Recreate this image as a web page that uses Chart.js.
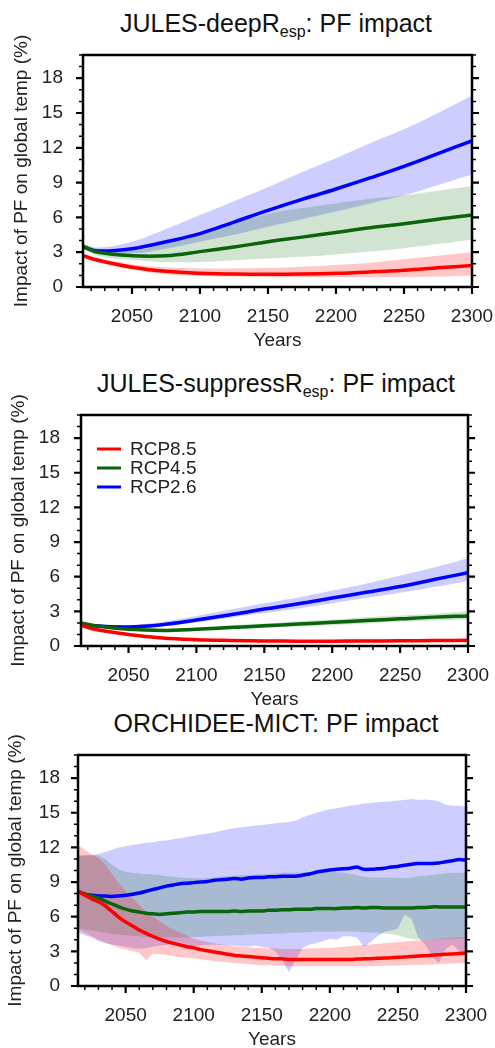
<!DOCTYPE html>
<html>
<head>
<meta charset="utf-8">
<script src="https://cdn.jsdelivr.net/npm/chart.js@4.4.1/dist/chart.umd.min.js"></script>
<style>
  html, body { margin: 0; padding: 0; background: #fff; overflow: hidden; }
  body { width: 495px; height: 1048px; position: relative; font-family: "Liberation Sans", Arial, sans-serif; color: #111; }
  .panel { position: absolute; left: 0; width: 495px; }
  .title { position: absolute; left: 0; width: 552px; text-align: center; font-size: 25px; line-height: 30px; white-space: nowrap; }
  .title sub { font-size: 16px; vertical-align: -5px; line-height: 0; }
</style>
</head>
<body>
<div class="title" style="top:8px">JULES-deepR<sub>esp</sub>: PF impact</div>
<div class="title" style="top:368px">JULES-suppressR<sub>esp</sub>: PF impact</div>
<div class="title" style="top:708px">ORCHIDEE-MICT: PF impact</div>
<div class="panel" style="top:0px;height:352px"><canvas id="deep"></canvas></div>
<div class="panel" style="top:352px;height:359px"><canvas id="suppress"></canvas></div>
<div class="panel" style="top:705px;height:346px"><canvas id="orchidee"></canvas></div>
<script>
// tick labels
const xMajor = [2050, 2100, 2150, 2200, 2250, 2300];
const yMajor = [0, 3, 6, 9, 12, 15, 18];
const seriesNames = ['RCP8.5', 'RCP4.5', 'RCP2.6'];

// JULES-deepResp
const deepYears = [2014, 2025, 2050, 2075, 2100, 2125, 2150, 2175, 2200, 2225, 2250, 2275, 2300];
const deepRed     = [2.7, 2.3, 1.7, 1.35, 1.18, 1.12, 1.1, 1.12, 1.18, 1.3, 1.45, 1.65, 1.85];
const deepRedHi   = [2.85, 2.5, 1.95, 1.7, 1.6, 1.6, 1.65, 1.75, 1.9, 2.1, 2.4, 2.7, 3.0];
const deepRedLo   = [2.6, 2.15, 1.5, 1.1, 0.95, 0.9, 0.85, 0.85, 0.85, 0.85, 0.85, 0.9, 1.0];
const deepGreen   = [3.5, 3.0, 2.7, 2.7, 3.05, 3.45, 3.9, 4.3, 4.7, 5.1, 5.45, 5.85, 6.2];
const deepGreenHi = [3.7, 3.3, 3.1, 3.8, 4.7, 5.5, 6.3, 6.8, 7.2, 7.6, 7.9, 8.3, 8.7];
const deepGreenLo = [3.3, 2.7, 2.35, 2.15, 2.15, 2.3, 2.45, 2.6, 2.8, 3.05, 3.35, 3.7, 4.1];
const deepBlue    = [3.45, 3.1, 3.3, 3.9, 4.6, 5.6, 6.6, 7.55, 8.45, 9.4, 10.4, 11.5, 12.6];
const deepBlueHi  = [3.7, 3.4, 3.9, 5.0, 6.2, 7.4, 8.6, 9.9, 11.1, 12.4, 13.6, 15.0, 16.5];
const deepBlueLo  = [3.3, 2.95, 2.9, 3.3, 3.9, 4.5, 5.2, 5.85, 6.5, 7.2, 7.9, 8.8, 9.7];

// JULES-suppressResp
const supYears = [2015, 2025, 2050, 2075, 2100, 2125, 2150, 2175, 2200, 2225, 2250, 2275, 2300];
const supRed     = [1.8, 1.45, 1.0, 0.7, 0.55, 0.48, 0.44, 0.42, 0.42, 0.43, 0.45, 0.47, 0.5];
const supRedHi   = [1.85, 1.52, 1.08, 0.8, 0.65, 0.58, 0.55, 0.53, 0.53, 0.54, 0.56, 0.58, 0.6];
const supRedLo   = [1.75, 1.38, 0.92, 0.6, 0.45, 0.38, 0.34, 0.32, 0.32, 0.33, 0.35, 0.37, 0.4];
const supGreen   = [2.0, 1.75, 1.45, 1.35, 1.45, 1.6, 1.75, 1.9, 2.05, 2.2, 2.35, 2.5, 2.6];
const supGreenHi = [2.05, 1.85, 1.6, 1.5, 1.6, 1.8, 1.95, 2.15, 2.3, 2.5, 2.65, 2.8, 3.0];
const supGreenLo = [1.95, 1.7, 1.35, 1.25, 1.3, 1.45, 1.55, 1.7, 1.8, 1.95, 2.1, 2.2, 2.3];
const supBlue    = [1.95, 1.75, 1.65, 1.85, 2.25, 2.7, 3.2, 3.65, 4.15, 4.65, 5.15, 5.75, 6.35];
const supBlueHi  = [2.0, 1.85, 1.8, 2.1, 2.6, 3.15, 3.7, 4.2, 4.8, 5.4, 6.1, 6.8, 7.6];
const supBlueLo  = [1.9, 1.65, 1.5, 1.7, 2.05, 2.45, 2.85, 3.25, 3.7, 4.15, 4.6, 5.1, 5.6];

// ORCHIDEE-MICT
const orcYears = [2015, 2020, 2025, 2030, 2035, 2040, 2045, 2050, 2055, 2060, 2065, 2070, 2075, 2080, 2085,
  2090, 2095, 2100, 2105, 2110, 2115, 2120, 2125, 2130, 2135, 2140, 2145, 2150, 2155, 2160, 2165, 2170, 2175,
  2180, 2185, 2190, 2195, 2200, 2205, 2210, 2215, 2220, 2225, 2230, 2235, 2240, 2245, 2250, 2255, 2260, 2265,
  2270, 2275, 2280, 2285, 2290, 2295, 2300];
const orcRed = [8.2, 7.85, 7.55, 7.3, 6.95, 6.45, 5.95, 5.55, 5.2, 4.85, 4.55, 4.3, 4.05, 3.85, 3.7,
  3.55, 3.4, 3.3, 3.15, 3.05, 2.95, 2.85, 2.75, 2.65, 2.6, 2.55, 2.5, 2.45, 2.4, 2.35, 2.35, 2.3, 2.3,
  2.3, 2.3, 2.3, 2.3, 2.3, 2.3, 2.3, 2.3, 2.33, 2.35, 2.37, 2.4, 2.42, 2.45, 2.48, 2.52, 2.55, 2.6,
  2.63, 2.67, 2.7, 2.75, 2.78, 2.82, 2.85];
const orcRedHi = [12.2, 11.8, 11.4, 11.1, 10.5, 9.7, 8.9, 8.2, 7.6, 7.0, 6.5, 6.0, 5.6, 5.2, 4.9,
  4.6, 4.35, 4.1, 3.95, 3.8, 3.7, 3.6, 3.5, 3.45, 3.4, 3.35, 3.3, 3.3, 3.25, 3.25, 3.2, 3.2, 3.2,
  3.2, 3.25, 3.25, 3.3, 3.3, 3.35, 3.4, 3.45, 3.5, 3.55, 3.6, 3.65, 3.7, 3.75, 3.8, 3.85, 3.9, 3.95,
  4.0, 4.05, 4.1, 4.15, 4.2, 4.2, 4.25];
const orcRedLo = [4.9, 4.6, 4.3, 4.0, 3.8, 3.5, 3.3, 3.15, 3.0, 2.9, 2.2, 2.8, 2.75, 2.7, 2.6,
  2.5, 2.45, 2.4, 2.3, 2.25, 2.15, 2.1, 2.05, 2.0, 1.95, 1.9, 1.85, 1.8, 1.8, 1.75, 1.75, 1.7, 1.7,
  1.7, 1.7, 1.7, 1.7, 1.7, 1.7, 1.7, 1.7, 1.7, 1.7, 1.72, 1.73, 1.75, 1.77, 1.78, 1.8, 1.82, 1.84,
  1.85, 1.87, 1.9, 1.92, 1.95, 1.97, 2.0];
const orcGreen = [8.2, 7.95, 7.8, 7.6, 7.35, 7.1, 6.85, 6.65, 6.5, 6.4, 6.3, 6.25, 6.2, 6.25, 6.3,
  6.35, 6.4, 6.4, 6.45, 6.45, 6.45, 6.45, 6.45, 6.5, 6.45, 6.5, 6.5, 6.5, 6.55, 6.55, 6.6, 6.6, 6.65,
  6.65, 6.65, 6.7, 6.7, 6.7, 6.7, 6.75, 6.75, 6.8, 6.75, 6.8, 6.8, 6.75, 6.75, 6.75, 6.75, 6.75, 6.8,
  6.8, 6.85, 6.85, 6.85, 6.85, 6.85, 6.85];
const orcGreenHi = [11.3, 11.3, 11.3, 11.3, 11.0, 10.5, 10.1, 9.9, 9.8, 9.75, 9.7, 9.65, 9.6, 9.5, 9.45,
  9.4, 9.35, 9.35, 9.3, 9.35, 9.4, 9.45, 9.5, 9.55, 9.6, 9.6, 9.65, 9.7, 9.7, 9.75, 9.8, 9.8, 9.8,
  9.85, 9.85, 9.9, 9.9, 9.9, 9.85, 9.8, 9.7, 9.6, 9.45, 9.4, 9.4, 9.4, 9.4, 9.35, 9.35, 9.4, 9.5,
  9.55, 9.6, 9.7, 9.75, 9.8, 9.8, 9.8];
const orcGreenLo = [5.0, 4.9, 4.8, 4.7, 4.6, 4.5, 4.45, 4.4, 4.35, 4.3, 4.25, 4.2, 4.2, 4.2, 4.2,
  4.2, 4.2, 4.25, 4.25, 4.3, 4.3, 4.35, 4.35, 4.4, 4.4, 4.45, 4.45, 4.5, 4.5, 4.55, 4.55, 4.6, 4.6,
  4.65, 4.65, 4.7, 4.7, 4.7, 4.7, 4.75, 4.7, 4.7, 4.65, 4.6, 4.6, 4.55, 4.5, 4.4, 4.2, 4.1, 4.0,
  4.0, 4.05, 4.05, 4.1, 4.1, 4.1, 4.1];
const orcBlue = [8.2, 7.95, 7.85, 7.8, 7.8, 7.75, 7.8, 7.85, 7.95, 8.05, 8.2, 8.35, 8.5, 8.65, 8.75,
  8.85, 8.9, 8.95, 9.0, 9.05, 9.15, 9.2, 9.25, 9.3, 9.25, 9.35, 9.4, 9.4, 9.45, 9.45, 9.5, 9.5, 9.5,
  9.6, 9.7, 9.85, 9.95, 10.05, 10.1, 10.15, 10.2, 10.3, 10.1, 10.1, 10.15, 10.2, 10.3, 10.35, 10.45, 10.55, 10.6,
  10.6, 10.6, 10.65, 10.75, 10.85, 10.95, 10.9];
const orcBlueHi = [11.3, 11.3, 11.35, 11.4, 11.6, 11.8, 12.0, 12.1, 12.2, 12.3, 12.4, 12.45, 12.55, 12.6, 12.7,
  12.8, 12.9, 13.0, 13.1, 13.2, 13.3, 13.45, 13.55, 13.65, 13.75, 13.8, 13.9, 13.95, 14.0, 14.1, 14.15, 14.2, 14.3,
  14.6, 14.8, 15.0, 15.15, 15.3, 15.4, 15.5, 15.6, 15.7, 15.8, 15.85, 15.9, 15.95, 16.0, 16.05, 16.1, 16.2, 16.1,
  16.15, 16.1, 16.0, 15.7, 15.6, 15.6, 15.55];
const orcBlueLo = [4.6, 4.4, 4.2, 3.9, 3.7, 3.6, 3.5, 3.4, 3.3, 3.2, 3.3, 3.4, 3.5, 3.55, 3.6,
  3.55, 3.5, 3.45, 3.5, 3.55, 3.6, 3.55, 3.5, 3.5, 3.45, 3.4, 3.5, 3.4, 3.3, 3.0, 2.2, 1.2, 2.3,
  3.3, 3.6, 3.7, 3.9, 4.1, 4.0, 4.3, 4.3, 4.2, 3.4, 3.8, 4.3, 4.7, 4.8, 5.0, 6.2, 5.8, 4.2,
  3.6, 2.6, 2.0, 3.2, 3.6, 3.0, 2.6];

const lineColors = ['#ff0000', '#0a640a', '#0000ff'];
const bandColors = ['rgba(255,0,0,0.22)', 'rgba(0,100,0,0.18)', 'rgba(70,70,255,0.27)'];

Chart.defaults.font.family = '"Liberation Sans", Arial, sans-serif';
Chart.defaults.color = '#111';

// frame with outward ticks (major + minor) on left, right and bottom
const framePlugin = {
  id: 'frame',
  afterDraw(chart) {
    const { ctx, chartArea: a, scales: { x, y } } = chart;
    ctx.save();
    ctx.strokeStyle = '#000';
    ctx.lineCap = 'butt';
    for (let v = 0; v <= 20; v++) {
      const py = y.getPixelForValue(v);
      const major = yMajor.includes(v);
      const len = major ? 7 : 4;
      ctx.lineWidth = major ? 2.2 : 1.5;
      ctx.beginPath();
      ctx.moveTo(a.left, py); ctx.lineTo(a.left - len, py);
      ctx.moveTo(a.right, py); ctx.lineTo(a.right + len, py);
      ctx.stroke();
    }
    for (let v = 2020; v <= 2300; v += 10) {
      const px = x.getPixelForValue(v);
      const major = xMajor.includes(v);
      ctx.lineWidth = major ? 2.2 : 1.5;
      ctx.beginPath();
      ctx.moveTo(px, a.bottom); ctx.lineTo(px, a.bottom + (major ? 7 : 4));
      ctx.stroke();
    }
    ctx.lineWidth = 2.5;
    ctx.strokeRect(a.left, a.top, a.right - a.left, a.bottom - a.top);
    ctx.restore();
  }
};

// legend drawn inside the plot area
const innerLegend = {
  id: 'innerLegend',
  afterDraw(chart, args, opts) {
    if (!opts.show) return;
    const { ctx, chartArea: a } = chart;
    ctx.save();
    ctx.font = '19px "Liberation Sans", Arial, sans-serif';
    ctx.textBaseline = 'middle';
    chart.data.datasets.filter(d => d.showInLegend).forEach((d, i) => {
      const yy = a.top + 34 + i * 19;
      ctx.strokeStyle = d.borderColor;
      ctx.lineWidth = 3;
      ctx.beginPath();
      ctx.moveTo(a.left + 16, yy); ctx.lineTo(a.left + 40, yy);
      ctx.stroke();
      ctx.fillStyle = '#222';
      ctx.fillText(d.label, a.left + 49, yy + 1);
    });
    ctx.restore();
  }
};

function pts(years, vals) {
  return years.map((yr, i) => ({ x: yr, y: vals[i] }));
}

function makeChart(id, years, lines, bands, cfg) {
  const datasets = [];
  lines.forEach((vals, i) => {
    datasets.push({
      label: seriesNames[i], showInLegend: true, data: pts(years, vals),
      borderColor: lineColors[i], borderWidth: 3.5, pointRadius: 0, fill: false,
      tension: cfg.tension
    });
  });
  bands.forEach((b, i) => {
    datasets.push({
      label: seriesNames[i] + ' max', data: pts(years, b[0]), borderWidth: 0, pointRadius: 0,
      backgroundColor: bandColors[i], fill: '+1', tension: cfg.bandTension
    });
    datasets.push({
      label: seriesNames[i] + ' min', data: pts(years, b[1]), borderWidth: 0, pointRadius: 0,
      fill: false, tension: cfg.bandTension
    });
  });

  return new Chart(document.getElementById(id), {
    type: 'line',
    data: { datasets: datasets },
    plugins: [framePlugin, innerLegend],
    options: {
      responsive: true,
      maintainAspectRatio: false,
      animation: false,
      layout: { padding: { top: cfg.padTop, right: cfg.padRight, left: 0, bottom: 0 } },
      plugins: {
        legend: { display: false },
        tooltip: { enabled: false },
        innerLegend: { show: cfg.legend }
      },
      scales: {
        x: {
          type: 'linear', min: years[0], max: 2300,
          grid: { display: false, drawTicks: false },
          border: { display: false },
          afterBuildTicks: s => { s.ticks = xMajor.map(v => ({ value: v })); },
          afterFit: s => { s.height = cfg.xH; s.paddingLeft = 0; s.paddingRight = 0; },
          ticks: { autoSkip: false, maxRotation: 0, padding: 18, font: { size: 19 }, color: '#222',
                   callback: v => String(v) },
          title: { display: true, text: 'Years', font: { size: 19 }, color: '#222', padding: 0 }
        },
        y: {
          min: 0, max: 20,
          grid: { display: false, drawTicks: false },
          border: { display: false },
          afterBuildTicks: s => { s.ticks = yMajor.map(v => ({ value: v })); },
          afterFit: s => { s.width = cfg.yW; s.paddingTop = 0; s.paddingBottom = 0; },
          ticks: { padding: cfg.yPad, font: { size: 19 }, color: '#222' },
          title: { display: true, text: 'Impact of PF on global temp (%)', font: { size: 19 }, color: '#222',
                   padding: { top: cfg.titlePad, bottom: 0 } }
        }
      }
    }
  });
}

makeChart('deep', deepYears,
  [deepRed, deepGreen, deepBlue],
  [[deepRedHi, deepRedLo], [deepGreenHi, deepGreenLo], [deepBlueHi, deepBlueLo]],
  { padTop: 55, padRight: 23, xH: 65, yW: 83, yPad: 20, titlePad: 10, tension: 0.4, bandTension: 0.4, legend: false });

makeChart('suppress', supYears,
  [supRed, supGreen, supBlue],
  [[supRedHi, supRedLo], [supGreenHi, supGreenLo], [supBlueHi, supBlueLo]],
  { padTop: 63, padRight: 27, xH: 65, yW: 81, yPad: 21, titlePad: 7, tension: 0.4, bandTension: 0.4, legend: true });

makeChart('orchidee', orcYears,
  [orcRed, orcGreen, orcBlue],
  [[orcRedHi, orcRedLo], [orcGreenHi, orcGreenLo], [orcBlueHi, orcBlueLo]],
  { padTop: 50, padRight: 29, xH: 65, yW: 78, yPad: 18, titlePad: 4, tension: 0.2, bandTension: 0, legend: false });
</script>
</body>
</html>
